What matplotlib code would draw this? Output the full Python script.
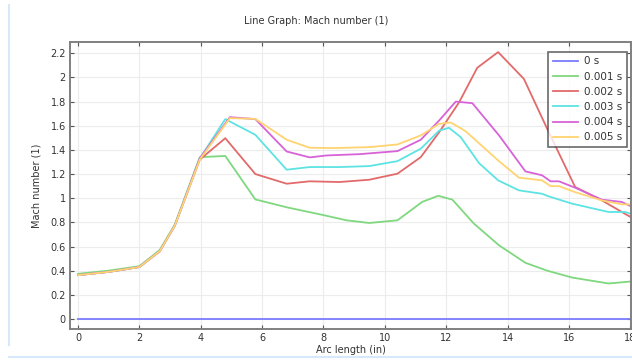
import numpy as np
import matplotlib
matplotlib.use('Agg')
import matplotlib.pyplot as plt
from matplotlib.lines import Line2D

# Mach number along the arc
labels = ['0 s', '0.001 s', '0.002 s', '0.003 s', '0.004 s', '0.005 s']
colors = ['#7b7bff', '#7fd87f', '#e26a6a', '#5ee3e3', '#d862d8', '#ffd470']

x_start = [0, 1, 2, 2.66, 3.15, 3.97]

x0 = [0, 18]
y0 = [0, 0]

x1 = x_start + [4.8, 5.78, 6.8, 8.0, 8.75, 9.49, 10.41, 11.22, 11.74, 12.2, 12.9, 13.72, 14.58, 15.29, 16.1, 17.29, 18.0]
y1 = [0.374, 0.40, 0.437, 0.57, 0.78, 1.34, 1.35, 0.99, 0.925, 0.86, 0.817, 0.795, 0.817, 0.97, 1.02, 0.988, 0.79, 0.61, 0.465, 0.40, 0.343, 0.294, 0.31]

x2 = x_start + [4.8, 5.78, 6.8, 7.55, 8.52, 9.49, 10.41, 11.17, 11.77, 12.42, 13.01, 13.69, 14.53, 15.34, 16.2, 17.07, 18.0]
y2 = [0.363, 0.39, 0.43, 0.56, 0.77, 1.32, 1.497, 1.2, 1.12, 1.14, 1.134, 1.153, 1.203, 1.34, 1.547, 1.795, 2.08, 2.21, 1.988, 1.547, 1.093, 0.982, 0.845]

x3 = x_start + [4.8, 5.78, 6.8, 7.55, 8.52, 9.49, 10.41, 11.17, 11.77, 12.09, 12.47, 13.07, 13.69, 14.37, 15.12, 15.34, 16.1, 17.29, 17.83, 18.0]
y3 = [0.363, 0.39, 0.43, 0.56, 0.77, 1.33, 1.655, 1.525, 1.236, 1.258, 1.258, 1.266, 1.307, 1.41, 1.56, 1.583, 1.506, 1.29, 1.148, 1.065, 1.037, 1.015, 0.955, 0.886, 0.886, 0.872]

x4 = x_start + [4.95, 5.78, 6.8, 7.55, 8.1, 9.18, 10.41, 11.17, 11.77, 12.31, 12.85, 13.72, 14.58, 15.12, 15.4, 15.67, 16.2, 17.07, 17.72, 18.0]
y4 = [0.363, 0.39, 0.43, 0.56, 0.77, 1.33, 1.671, 1.655, 1.387, 1.338, 1.354, 1.365, 1.39, 1.484, 1.644, 1.8, 1.787, 1.52, 1.222, 1.19, 1.14, 1.14, 1.087, 0.988, 0.969, 0.935]

x5 = x_start + [4.95, 5.78, 6.8, 7.55, 8.32, 9.49, 10.41, 11.17, 11.77, 12.15, 12.63, 13.69, 14.37, 15.12, 15.4, 15.67, 16.2, 17.07, 17.72, 18.0]
y5 = [0.363, 0.39, 0.43, 0.56, 0.77, 1.32, 1.663, 1.657, 1.484, 1.418, 1.415, 1.423, 1.445, 1.52, 1.616, 1.627, 1.555, 1.313, 1.17, 1.148, 1.1, 1.1, 1.05, 0.982, 0.949, 0.949]

xs = [x0, x1, x2, x3, x4, x5]
ys = [y0, y1, y2, y3, y4, y5]

txt = '#333333'
fig = plt.figure(figsize=(6.32, 3.6), dpi=100)
ax = fig.add_axes([70/632, 1 - 329/360, 561/632, (329 - 41.7)/360])

for xv, yv, c, lab in zip(xs, ys, colors, labels):
    ax.plot(xv, yv, color=c, lw=1.3, label=lab)

ax.set_xlim(-0.26, 18.02)
ax.set_ylim(-0.083, 2.296)
ax.set_xticks(np.arange(0, 19, 2))
ax.set_yticks(np.arange(0, 2.3, 0.2))
ax.set_yticklabels(['0', '0.2', '0.4', '0.6', '0.8', '1', '1.2', '1.4', '1.6', '1.8', '2', '2.2'])
ax.grid(True, color='#ececec', lw=0.8)
ax.set_axisbelow(True)
ax.tick_params(direction='in', length=3, width=0.8, color='#555555', labelsize=7, labelcolor=txt,
               top=True, right=True, pad=3)
for s in ax.spines.values():
    s.set_color('#808080')
    s.set_linewidth(1.4)

ax.set_xlabel('Arc length (in)', fontsize=7, color=txt, labelpad=1)
ax.set_ylabel('Mach number (1)', fontsize=7, color=txt, labelpad=6)
fig.text(316/632, 1 - 21/360, 'Line Graph: Mach number (1)', fontsize=7, color=txt, ha='center', va='center')

leg = ax.legend(loc='upper right', bbox_to_anchor=(0.993, 0.965), borderaxespad=0, fontsize=7.5,
                frameon=True, fancybox=False, shadow=False, handlelength=2.4, borderpad=0.45,
                labelspacing=0.5, handletextpad=0.6)
leg.get_frame().set_edgecolor('#444444')
leg.get_frame().set_linewidth(1.2)
for t in leg.get_texts():
    t.set_color(txt)

# light blue window frame
fig.add_artist(Line2D([9/632, 9/632], [1 - 345/360, 1 - 5/360], transform=fig.transFigure, color='#d6e8fa', lw=1.5))
fig.add_artist(Line2D([9/632, 1], [1 - 357/360, 1 - 357/360], transform=fig.transFigure, color='#d6e8fa', lw=1.5))

fig.savefig('out.png', dpi=100)
